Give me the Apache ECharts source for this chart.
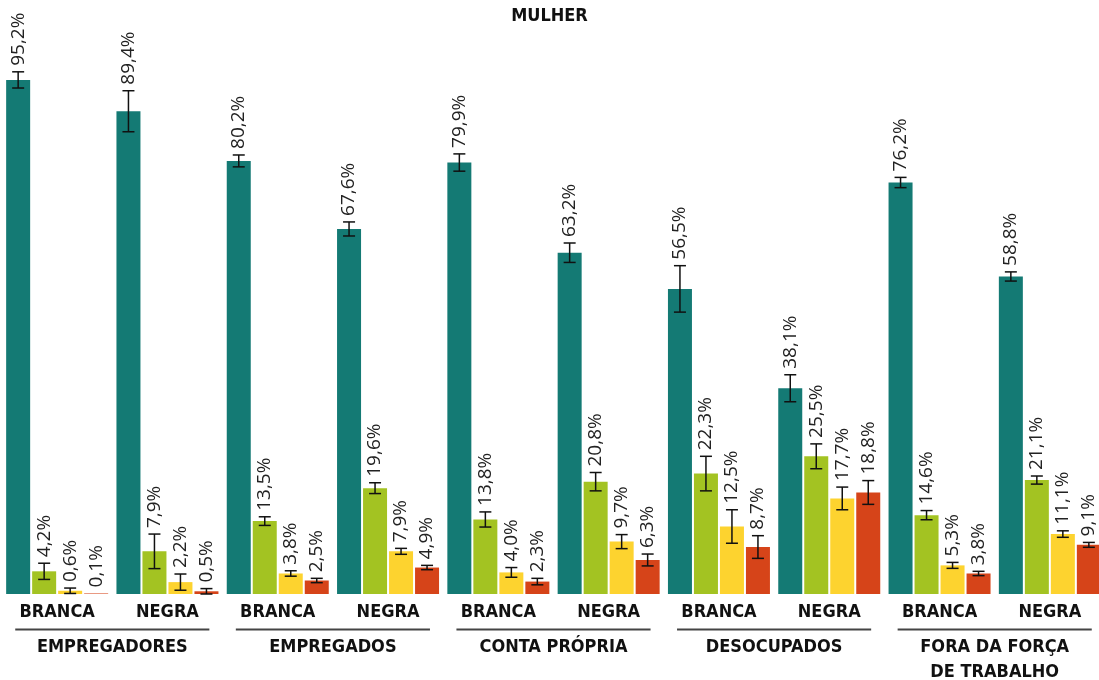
<!DOCTYPE html>
<html>
<head>
<meta charset="utf-8">
<script src="https://cdn.jsdelivr.net/npm/echarts@6/dist/echarts.min.js"></script>
<style>
  html, body { margin: 0; padding: 0; background: #fff; }
  #chart1 { width: 1099px; height: 680px; }
</style>
</head>
<body>
<div id="chart1"></div>
<script>
// categorias (raça) e grupos (condição)
var racas = ['BRANCA', 'NEGRA', 'BRANCA', 'NEGRA', 'BRANCA', 'NEGRA', 'BRANCA', 'NEGRA', 'BRANCA', 'NEGRA'];
var grupos = ['EMPREGADORES', 'EMPREGADOS', 'CONTA PRÓPRIA', 'DESOCUPADOS', 'FORA DA FORÇA\nDE TRABALHO'];

// valores (%)
var serie1 = [95.2, 89.4, 80.2, 67.6, 79.9, 63.2, 56.5, 38.1, 76.2, 58.8];
var serie2 = [4.2, 7.9, 13.5, 19.6, 13.8, 20.8, 22.3, 25.5, 14.6, 21.1];
var serie3 = [0.6, 2.2, 3.8, 7.9, 4.0, 9.7, 12.5, 17.7, 5.3, 11.1];
var serie4 = [0.1, 0.5, 2.5, 4.9, 2.3, 6.3, 8.7, 18.8, 3.8, 9.1];

// margem de erro (+/- pontos percentuais)
var erro1 = [1.5, 3.8, 1.1, 1.3, 1.6, 1.8, 4.3, 2.5, 0.95, 0.85];
var erro2 = [1.5, 3.2, 0.8, 1.0, 1.4, 1.7, 3.2, 2.3, 0.85, 0.75];
var erro3 = [0.5, 1.5, 0.5, 0.55, 0.9, 1.3, 3.1, 2.1, 0.55, 0.6];
var erro4 = [0, 0.5, 0.4, 0.4, 0.6, 1.1, 2.1, 2.2, 0.4, 0.45];

var cores = ['#147a74', '#a3c322', '#fdd32f', '#d64419'];
var series = [serie1, serie2, serie3, serie4];
var erros = [erro1, erro2, erro3, erro4];

var barW = 24, gap = 2;
var boldFont = '"DejaVu Sans Condensed", "DejaVu Sans"';

function fmt(v) {
    return v.toFixed(1).replace('.', ',') + '%';
}

function errorSeries(k) {
    var offset = (k - 1.5) * (barW + gap);
    return {
        type: 'custom',
        xAxisIndex: 0,
        yAxisIndex: 0,
        z: 5,
        silent: true,
        data: series[k].map(function (v, i) { return [i, v, erros[k][i]]; }),
        renderItem: function (params, api) {
            var idx = api.value(0), v = api.value(1), e = api.value(2);
            var x = api.coord([idx, v])[0] + offset;
            var hi = api.coord([idx, v + e])[1];
            var lo = api.coord([idx, Math.max(0, v - e)])[1];
            var top = api.coord([idx, v])[1];
            var children = [];
            if (e > 0) {
                var st = { stroke: '#111', lineWidth: 1.5 };
                children.push({ type: 'line', shape: { x1: x, y1: hi, x2: x, y2: lo }, style: st });
                children.push({ type: 'line', shape: { x1: x - 6, y1: hi, x2: x + 6, y2: hi }, style: st });
                children.push({ type: 'line', shape: { x1: x - 6, y1: lo, x2: x + 6, y2: lo }, style: st });
            }
            var ty = (e > 0 ? hi : top) - 6;
            children.push({
                type: 'text',
                x: x,
                y: ty,
                rotation: Math.PI / 2,
                style: {
                    text: fmt(v),
                    x: 0, y: 0,
                    align: 'left',
                    verticalAlign: 'middle',
                    fill: '#222',
                    font: '19px "Open Sans"'
                }
            });
            return { type: 'group', children: children };
        }
    };
}

var chart = echarts.init(document.getElementById('chart1'));

var option = {
    animation: false,
    title: {
        text: 'MULHER',
        left: 'center',
        top: 2,
        textStyle: { fontFamily: boldFont, fontWeight: 'bold', fontSize: 18, color: '#111' }
    },
    grid: { left: 2, width: 1103, top: 54, height: 540, outerBoundsMode: 'none', containLabel: false },
    xAxis: [
        {
            type: 'category',
            data: racas,
            axisLine: { show: false },
            axisTick: { show: false },
            axisLabel: { fontFamily: boldFont, fontWeight: 'bold', fontSize: 18, color: '#111', margin: 9, interval: 0 }
        },
        {
            type: 'category',
            data: grupos,
            position: 'bottom',
            offset: 36,
            axisLine: { show: false },
            axisTick: { show: false },
            axisLabel: { fontFamily: boldFont, fontWeight: 'bold', fontSize: 18, color: '#111', margin: 5, lineHeight: 25, interval: 0 }
        }
    ],
    yAxis: { type: 'value', min: 0, max: 100, show: false },
    series: []
};

series.forEach(function (d, k) {
    option.series.push({
        type: 'bar',
        data: d,
        barWidth: barW,
        barGap: (gap / barW * 100).toFixed(2) + '%',
        itemStyle: { color: cores[k] }
    });
});
series.forEach(function (d, k) {
    option.series.push(errorSeries(k));
});

// linhas sob cada par
option.series.push({
    type: 'custom',
    xAxisIndex: 1,
    yAxisIndex: 0,
    silent: true,
    data: grupos.map(function (g, i) { return [i]; }),
    renderItem: function (params, api) {
        var c = api.coord([api.value(0), 0]);
        var bw = api.size([1, 0])[0];
        var y = c[1] + 35.5;
        return {
            type: 'line',
            shape: { x1: c[0] - bw * 0.44, y1: y, x2: c[0] + bw * 0.44, y2: y },
            style: { stroke: '#444', lineWidth: 2 }
        };
    }
});

chart.setOption(option, true);
</script>
</body>
</html>
